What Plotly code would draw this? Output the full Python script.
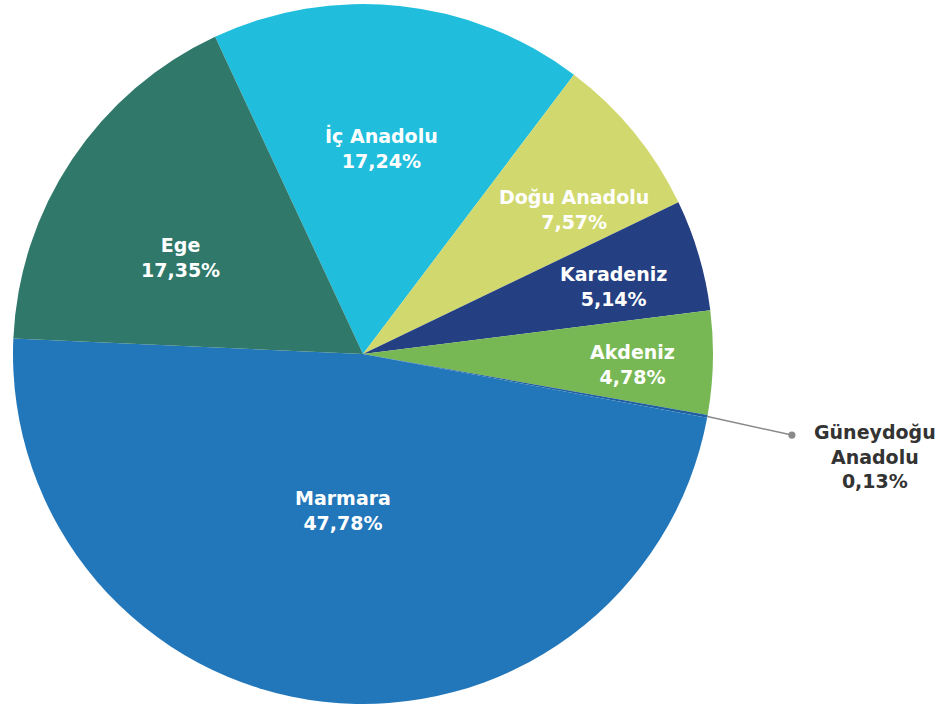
import math
import plotly.graph_objects as go

regions = ["İç Anadolu", "Doğu Anadolu", "Karadeniz", "Akdeniz", "Güneydoğu Anadolu", "Marmara", "Ege"]
shares = [17.24, 7.57, 5.14, 4.78, 0.13, 47.78, 17.35]
colors = ["#20BEDC", "#D0D86E", "#243F82", "#78B854", "#1F5FA0", "#2277BA", "#2F786A"]

W, H = 951, 705
rotation = -25.0
# pie placement (pixels)
cx, cy, R = 363, 354, 350
dom_x = [(cx - R) / W, (cx + R) / W]
dom_y = [(H - cy - R) / H, (H - cy + R) / H]

# label placement per slice: (angle offset in degrees, radius fraction)
label_place = [(-0.8, 0.59), (4.9, 0.73), (1.4, 0.74), (0.7, 0.77), (0, 1.0), (0.9, 0.45), (-6.0, 0.59)]

FONT = "DejaVu Sans"
FSIZE = 19

def fmt(v):
    return f"{v:.2f}".replace(".", ",") + "%"

fig = go.Figure(go.Pie(
    labels=regions,
    values=shares,
    textinfo="none",
    sort=False,
    direction="clockwise",
    rotation=rotation,
    marker=dict(colors=colors, line=dict(width=0)),
    hoverinfo="label+percent",
    showlegend=False,
    domain=dict(x=dom_x, y=dom_y),
))

total = sum(shares)
cum = 0.0
mids = []
for v in shares:
    mids.append(rotation + (cum + v / 2) / total * 360)
    cum += v

for i, (name, v) in enumerate(zip(regions, shares)):
    if name == "Güneydoğu Anadolu":
        continue
    off, frac = label_place[i]
    a = math.radians(mids[i] + off)
    px = cx + frac * R * math.sin(a)
    py = cy - frac * R * math.cos(a)
    fig.add_annotation(
        x=px / W, y=1 - py / H, xref="paper", yref="paper",
        text=f"{name}<br>{fmt(v)}", showarrow=False,
        xanchor="center", yanchor="middle",
        font=dict(family=FONT, size=FSIZE, color="white", weight="bold"),
    )

# callout for the tiny slice
idx = regions.index("Güneydoğu Anadolu")
a = math.radians(mids[idx])
ex = cx + R * math.sin(a)
ey = cy - R * math.cos(a)
fig.add_annotation(
    x=ex / W, y=1 - ey / H, xref="paper", yref="paper",
    text="", showarrow=True, ax=86, ay=19,
    arrowhead=0, arrowside="start", startarrowhead=6, startarrowsize=1.2,
    arrowwidth=1.5, arrowcolor="#8a8a8a",
)
fig.add_annotation(
    x=875 / W, y=1 - 456 / H, xref="paper", yref="paper",
    text="Güneydoğu<br>Anadolu<br>" + fmt(shares[idx]),
    showarrow=False, xanchor="center", yanchor="middle",
    font=dict(family=FONT, size=FSIZE, color="#333333", weight="bold"),
)

fig.update_layout(
    width=W, height=H,
    margin=dict(l=0, r=0, t=0, b=0),
    paper_bgcolor="white",
    plot_bgcolor="white",
)

fig.write_html("out.html", config={"displayModeBar": False},
               post_script="document.body.style.margin='0px';")
